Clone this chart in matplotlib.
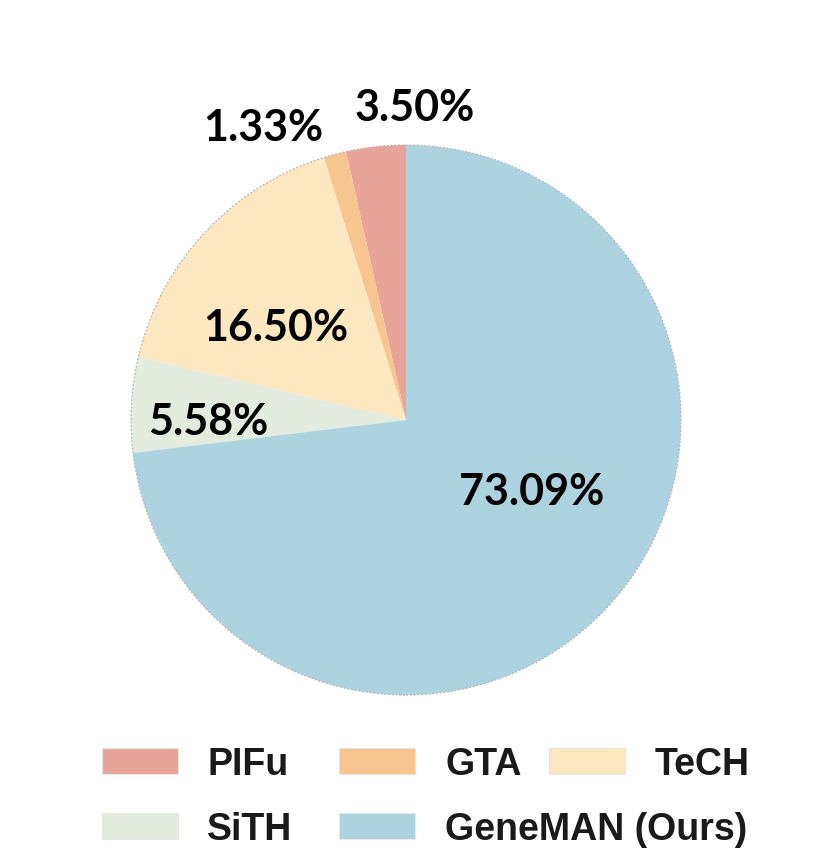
import matplotlib.pyplot as plt
from matplotlib.patches import Rectangle, Circle

# data
methods = ['PIFu', 'GTA', 'TeCH', 'SiTH', 'GeneMAN (Ours)']
shares = [3.50, 1.33, 16.50, 5.58, 73.09]
colors = ['#E9A499', '#F8C591', '#FEE8C1', '#E3ECDF', '#ADD3E1']
pct_labels = ['3.50%', '1.33%', '16.50%', '5.58%', '73.09%']

# where each percentage sits (pie radius = 1)
label_pos = [(0.03, 1.135), (-0.52, 1.062), (-0.473, 0.335), (-0.72, -0.007), (0.458, -0.262)]

fig = plt.figure(figsize=(8.3, 8.55), dpi=100)
W, H = 830, 855
cx, cy, r = 406, 420, 275
half = 320
ax = fig.add_axes([(cx - half) / W, (H - cy - half) / H, 2 * half / W, 2 * half / H])

wedges, _ = ax.pie(shares, colors=colors, startangle=90, counterclock=True,
                   radius=1, wedgeprops=dict(linewidth=0))
ax.add_patch(Circle((0, 0), 1, fill=False, edgecolor='#b5b5b5', lw=0.9, linestyle=(0, (1.5, 1.5))))

for txt, (x, y) in zip(pct_labels, label_pos):
    ax.text(x, y, txt, ha='center', va='center', fontsize=31, fontweight='bold',
            family='Lato', color='black')

lim = half / r
ax.set_xlim(-lim, lim)
ax.set_ylim(-lim, lim)
ax.set_aspect('equal')
ax.axis('off')

# hand-placed legend (patch left x, text left x, row center y) in pixels
leg_layout = [(102, 207, 761), (339, 445, 761), (549, 655, 761), (102, 207, 826), (339, 445, 826)]
for (px, tx, ry), name, col in zip(leg_layout, methods, colors):
    fig.add_artist(Rectangle((px / W, (H - ry - 13) / H), 76 / W, 26 / H,
                             transform=fig.transFigure, facecolor=col,
                             edgecolor='#e6e6e6', lw=0.8))
    fig.text(tx / W, (H - ry) / H, name, ha='left', va='center_baseline', fontsize=27,
             fontweight='bold', family='Liberation Sans', color='#1a1a1a')

plt.savefig('out.png', dpi=100)
